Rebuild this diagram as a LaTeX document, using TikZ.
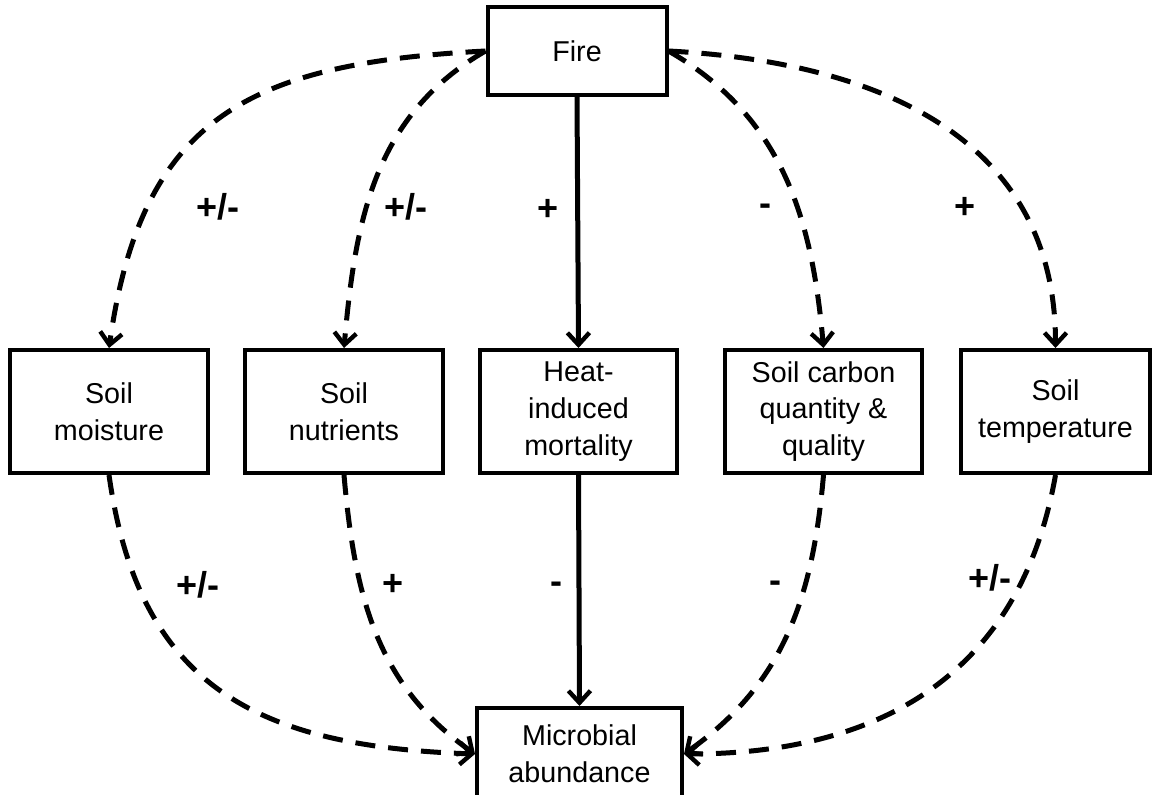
\documentclass[tikz,border=0pt]{standalone}
\usepackage{fontspec}
\setmainfont{Liberation Sans}
\usetikzlibrary{arrows.meta}
\begin{document}
\begin{tikzpicture}[x=0.5pt,y=0.5pt]
  \tikzset{factor box/.style={draw,line width=2pt,minimum width=#1,minimum height=61.5pt,inner sep=0pt,align=center,font=\fontsize{14.35}{18.4}\selectfont}}
  \tikzset{cause/.style={line width=2.5pt,-{Straight Barb[length=6pt,width=11pt,line width=2.2pt]}}}
  \tikzset{effect/.style={cause,dash pattern=on 10pt off 6.5pt}}
  \tikzset{sign/.style={font=\fontsize{18}{20}\selectfont\bfseries}}

  \useasboundingbox (0,0) rectangle (1154,794);

  \node [factor box=89.5pt,minimum height=44pt] (fire) at (577,743) {Fire};
  \node [factor box=99pt] (moist) at (109,382.5) {Soil\\moisture};
  \node [factor box=99pt] (nutr) at (344,382.5) {Soil\\nutrients};
  \node [factor box=98.5pt] (heat) at (578.5,382.5) {Heat-\\induced\\mortality};
  \node [factor box=98.5pt] (carbon) at (823.5,382.5) {Soil carbon\\quantity \&\\quality};
  \node [factor box=94.5pt] (temp) at (1055.5,382.5) {Soil\\temperature};
  \node [factor box=102.5pt,minimum height=46pt] (micro) at (579.5,40) {Microbial\\abundance};

  % fire to the factors
  \draw [effect] (fire.west) to[out=183,in=82,looseness=1.25] (moist.north);
  \draw [effect] (fire.west) to[out=210,in=85] (nutr.north);
  \draw [cause] (fire.south) -- (heat.north);
  \draw [effect] (fire.east) to[out=-30,in=95] (carbon.north);
  \draw [effect] (fire.east) to[out=-3,in=90,looseness=1.1] (temp.north);

  % factors to the microbes
  \draw [effect] (moist.south) to[out=-82,in=178,looseness=1.2] (micro.west);
  \draw [effect] (nutr.south) to[out=-85,in=145] (micro.west);
  \draw [cause] (heat.south) -- (micro.north);
  \draw [effect] (carbon.south) to[out=-95,in=35] (micro.east);
  \draw [effect] (temp.south) to[out=-100,in=0,looseness=1.1] (micro.east);

  \node [sign] (s1) at (218,587) {+/-};
  \node [sign] (s2) at (406,587) {+/-};
  \node [sign] (s3) at (548,584) {+};
  \node [sign] (s4) at (765,584) {-};
  \node [sign] (s5) at (965,586) {+};
  \node [sign] (m1) at (198,209) {+/-};
  \node [sign] (m2) at (393,209) {+};
  \node [sign] (m3) at (556,206) {-};
  \node [sign] (m4) at (775,207) {-};
  \node [sign] (m5) at (990,216) {+/-};
\end{tikzpicture}
\end{document}
